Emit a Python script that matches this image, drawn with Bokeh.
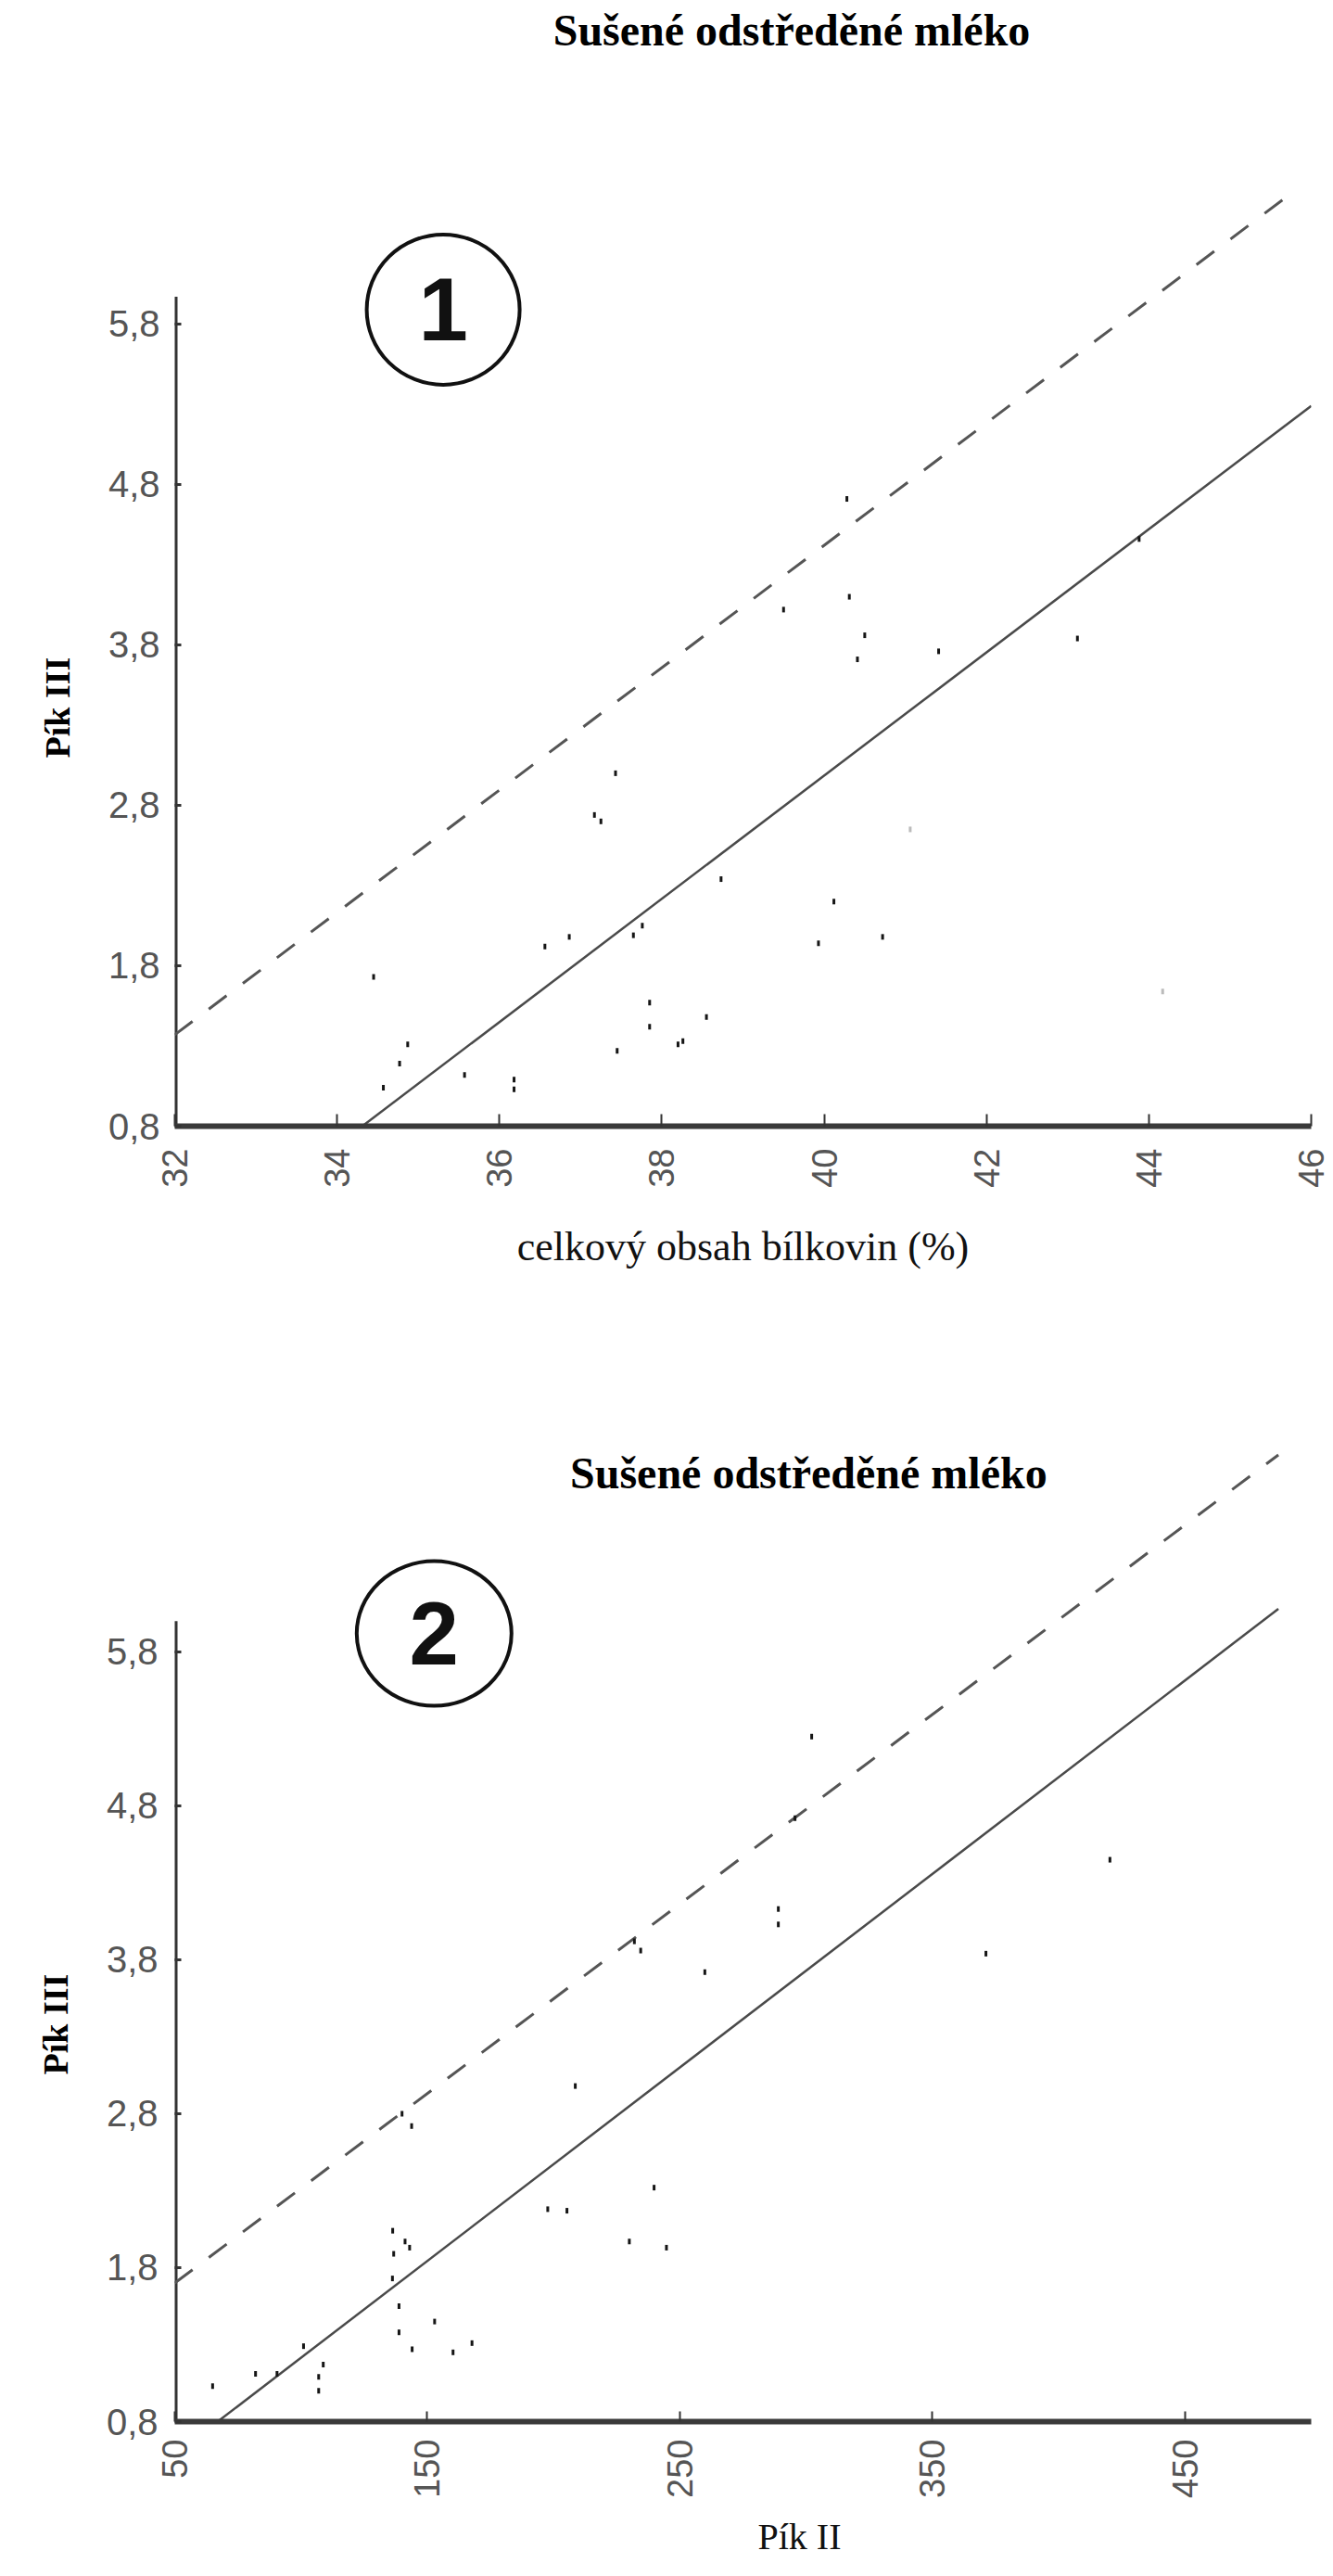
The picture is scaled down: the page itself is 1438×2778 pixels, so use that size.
import math
from bokeh.plotting import figure
from bokeh.layouts import column
from bokeh.models import Range1d, FixedTicker, CustomJSTickFormatter, Label, Title
from bokeh.core.properties import value
from bokeh.embed import file_html
from bokeh.resources import INLINE

# ---------------- texts ----------------
TITLE = "Sušené odstředěné mléko"
Y_LABEL = "Pík III"
X1_LABEL = "celkový obsah bílkovin (%)"
X2_LABEL = "Pík II"

# ---------------- ticks ----------------
y_ticks = [0.8, 1.8, 2.8, 3.8, 4.8, 5.8]
x1_ticks = [32, 34, 36, 38, 40, 42, 44, 46]
x2_ticks = [50, 150, 250, 350, 450]

# ---------------- chart 1 data ----------------
x1_pts = [34.45, 34.57, 34.77, 34.87, 35.57, 36.18, 36.18, 36.56, 36.86, 37.17,
          37.25, 37.43, 37.45, 37.65, 37.76, 37.85, 37.85, 38.20, 38.26, 38.55,
          38.73, 39.50, 39.93, 40.12, 40.28, 40.31, 40.41, 40.50, 40.72, 41.41,
          43.12, 43.88]
y1_pts = [1.73, 1.04, 1.19, 1.31, 1.12, 1.09, 1.03, 1.92, 1.98, 2.74,
          2.70, 3.00, 1.27, 1.99, 2.05, 1.57, 1.42, 1.31, 1.33, 1.48,
          2.34, 4.02, 1.94, 2.20, 4.71, 4.10, 3.71, 3.86, 1.98, 3.76,
          3.84, 4.46]
x1_faint = [41.06, 44.17]
y1_faint = [2.65, 1.64]
line1_x = [34.31, 46.0]
line1_y = [0.8, 5.29]
dash1_x = [32.0, 45.82]
dash1_y = [1.37, 6.64]

# ---------------- chart 2 data ----------------
x2_pts = [65.0, 82.0, 90.5, 101.0, 107.0, 107.0, 108.8, 136.2, 138.8, 138.8,
          144.0, 152.9, 160.2, 167.7, 136.3, 136.7, 141.2, 143.0, 140.0, 143.8,
          197.7, 205.3, 208.6, 230.0, 239.8, 244.7, 232.0, 234.5, 259.9, 289.0,
          289.0, 295.6, 302.2, 371.2, 420.3]
y2_pts = [1.03, 1.11, 1.11, 1.29, 1.09, 1.00, 1.17, 1.73, 1.55, 1.38,
          1.27, 1.45, 1.25, 1.31, 2.04, 1.89, 1.97, 1.93, 2.80, 2.72,
          2.18, 2.17, 2.98, 1.97, 2.32, 1.93, 3.92, 3.86, 3.72, 4.13,
          4.03, 4.72, 5.25, 3.84, 4.45]
line2_x = [67.0, 487.0]
line2_y = [0.8, 6.08]
dash2_x = [50.0, 487.0]
dash2_y = [1.70, 7.08]

# ---------------- layout constants ----------------
Y1_RANGE = (0.8, 7.817)
X1_RANGE = (32, 46)
Y1_AXIS_TOP = 5.97
Y2_RANGE = (0.8, 8.095)
X2_RANGE = (50, 500)
Y2_AXIS_TOP = 6.0

TICK_FONT = "Liberation Sans"
SERIF = "Liberation Serif"
TICK_COLOR = "#555555"


def make_fig(height, xr, yr, left, right, bottom):
    p = figure(width=1438, height=height, x_range=Range1d(*xr), y_range=Range1d(*yr),
               output_backend="svg", toolbar_location=None, title=None,
               min_border_left=left, min_border_right=right,
               min_border_top=0, min_border_bottom=bottom)
    p.grid.visible = False
    p.outline_line_color = None
    p.background_fill_color = "white"
    p.border_fill_color = "white"
    return p


def style_axes(p, xticks, ystand, xstand, xtick_in):
    ya = p.yaxis[0]
    ya.ticker = FixedTicker(ticks=y_ticks)
    ya.formatter = CustomJSTickFormatter(code="return tick.toFixed(1).replace('.', ',');")
    ya.axis_line_color = None
    ya.major_tick_in = 7
    ya.major_tick_out = 0
    ya.major_tick_line_width = 3
    ya.major_tick_line_color = "#333333"
    ya.minor_tick_line_color = None
    ya.major_label_text_font = TICK_FONT
    ya.major_label_text_font_size = "40px"
    ya.major_label_text_color = TICK_COLOR
    ya.major_label_standoff = ystand

    xa = p.xaxis[0]
    xa.ticker = FixedTicker(ticks=xticks)
    xa.major_label_orientation = math.pi / 2
    xa.axis_line_width = 6
    xa.axis_line_color = "#3a3a3a"
    xa.major_tick_in = xtick_in
    xa.major_tick_out = 0
    xa.major_tick_line_width = 2
    xa.major_tick_line_color = "#333333"
    xa.minor_tick_line_color = None
    xa.major_label_text_font = TICK_FONT
    xa.major_label_text_font_size = "38px"
    xa.major_label_text_color = TICK_COLOR
    xa.major_label_standoff = xstand


def draw_common(p, xmin, ymin, ytop, lx, ly, dx, dy, px, py):
    # y axis line (shorter than the frame, as in the original)
    p.segment(x0=[xmin], y0=[ymin], x1=[xmin], y1=[ytop], line_width=6, line_color="#333333")
    p.line(lx, ly, line_width=2.5, line_color="#4a4a4a")
    p.line(dx, dy, line_width=3, line_color="#555555", line_dash="24 22")
    p.rect(px, py, width=3, height=6, width_units="screen", height_units="screen",
           fill_color="#151515", line_color=None)


def add_badge(p, cx, cy, w, h, txt):
    p.ellipse(x=[cx], y=[cy], width=w, height=h, width_units="screen", height_units="screen",
              fill_color=None, line_color="#111111", line_width=4)
    p.text(x=[cx], y=[cy], text=[txt], text_font=value("Liberation Sans"),
           text_font_size=value("96px"), text_font_style="bold", text_color="#111111",
           text_align="center", text_baseline="middle")


def y_title(offset, standoff):
    return Title(text=Y_LABEL, align="left", offset=offset, vertical_align="middle",
                 standoff=standoff, text_font=SERIF, text_font_size="38px",
                 text_font_style="bold", text_color="#000000")


# ================= Chart 1 =================
p1 = make_fig(1400, X1_RANGE, Y1_RANGE, 188, 24, 186)
style_axes(p1, x1_ticks, 16, 24, 13)
p1.xaxis[0].axis_label = X1_LABEL
p1.xaxis[0].axis_label_text_font = SERIF
p1.xaxis[0].axis_label_text_font_size = "44px"
p1.xaxis[0].axis_label_text_font_style = "normal"
p1.xaxis[0].axis_label_text_color = "#111111"
p1.xaxis[0].axis_label_standoff = 36

draw_common(p1, X1_RANGE[0], Y1_RANGE[0], Y1_AXIS_TOP, line1_x, line1_y,
            dash1_x, dash1_y, x1_pts, y1_pts)
p1.rect(x1_faint, y1_faint, width=3, height=6, width_units="screen", height_units="screen",
        fill_color="#bbbbbb", line_color=None)
add_badge(p1, 35.307, 5.89, 165, 162, "1")

p1.add_layout(Label(x=39.60, y=7.63, text=TITLE, text_font=SERIF, text_font_size="48px",
                    text_font_style="bold", text_color="#000000",
                    text_align="center", text_baseline="alphabetic"))
p1.add_layout(y_title(397, 60), "left")

# ================= Chart 2 =================
p2 = make_fig(1378, X2_RANGE, Y2_RANGE, 183, 11, 167)
style_axes(p2, x2_ticks, 18, 19, 11)

draw_common(p2, X2_RANGE[0], Y2_RANGE[0], Y2_AXIS_TOP, line2_x, line2_y,
            dash2_x, dash2_y, x2_pts, y2_pts)
add_badge(p2, 152.7, 5.92, 167, 156, "2")

p2.add_layout(Label(x=301.0, y=6.96, text=TITLE, text_font=SERIF, text_font_size="48px",
                    text_font_style="bold", text_color="#000000",
                    text_align="center", text_baseline="alphabetic"))
p2.add_layout(y_title(374, 60), "left")
p2.add_layout(Title(text=X2_LABEL, align="left", offset=629, vertical_align="top",
                    standoff=32, text_font=SERIF, text_font_size="40px",
                    text_font_style="normal", text_color="#111111"), "below")

layout = column(p1, p2, spacing=0)
open("out.html", "w").write(file_html(layout, INLINE))
